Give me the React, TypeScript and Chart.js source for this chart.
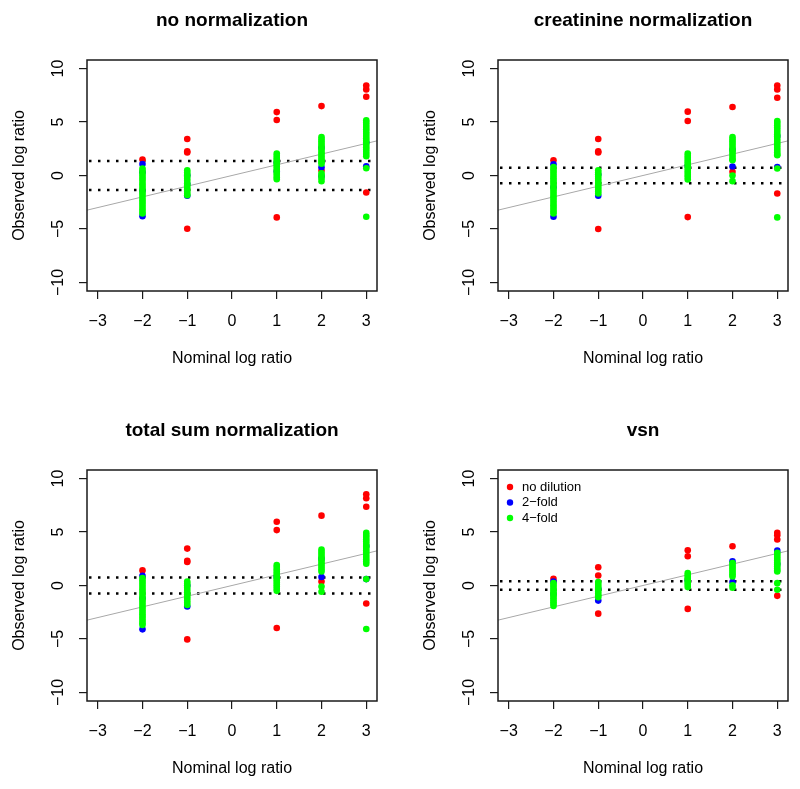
import React, { useEffect, useRef } from "react";
import { Chart, registerables } from "chart.js";

Chart.register(...registerables);
Chart.defaults.font.family = '"Liberation Sans", Arial, Helvetica, sans-serif';
Chart.defaults.color = "#000";

// ---- axes / categories ----
const xTicks = [-3, -2, -1, 0, 1, 2, 3];
const yTicks = [-10, -5, 0, 5, 10];
const nominal = [-2, -1, 1, 2, 3];
const seriesNames = ["no dilution", "2\u2212fold", "4\u2212fold"];
const seriesColors = ["#ff0000", "#0000ff", "#00ff00"];
const panelTitles = ["no normalization", "creatinine normalization", "total sum normalization", "vsn"];
const identityX = [-4, 4];

// ---- observed log ratios, one list per nominal log ratio ----
const noneRed = [
  [1.49],
  [3.42, 2.27, 2.15, -4.98],
  [5.93, 5.19, -3.92],
  [6.49, 0.47],
  [8.42, 8.05, 7.37, -1.59],
];
const noneBlue = [
  [1.08, 0.3, -1.4, -3.8],
  [0.02, -0.8, -1.9],
  [1.2, 0.4],
  [2.6, 0.77, -0.07],
  [3.08, 0.87],
];
const noneGreen = [
  [0.65, 0.45, 0.24, 0.03, -0.18, -0.38, -0.6, -0.82, -1.03, -1.24, -1.46, -1.67, -1.88, -2.1, -2.31, -2.52, -2.74, -2.95, -3.16, -3.38, -3.55],
  [0.49, 0.3, 0.1, -0.1, -0.3, -0.5, -0.72, -0.92, -1.12, -1.32, -1.52, -1.7, -1.85],
  [2.05, 1.85, 1.64, 1.44, 1.25, 1.04, 0.85, 0.64, 0.44, 0.24, 0.04, -0.16, -0.35],
  [3.6, 3.4, 3.2, 3.0, 2.8, 2.6, 2.4, 2.2, 2.0, 1.8, 1.6, 1.4, 1.25, 1.1, 0.2, 0.0, -0.25, -0.53],
  [5.16, 4.95, 4.74, 4.53, 4.32, 4.1, 3.9, 3.69, 3.48, 3.27, 3.06, 2.85, 2.64, 2.43, 2.22, 2.01, 1.8, 0.68, -3.86],
];

const creaRed = [
  [1.43],
  [3.42, 2.27, 2.15, -5.0],
  [5.97, 5.1, -3.89],
  [6.4, 0.34],
  [8.42, 8.05, 7.27, -1.68],
];
const creaBlue = [
  [1.05, -1.1, -3.86],
  [0.1, -1.9],
  [0.9],
  [0.84, 2.4],
  [3.7, 0.8],
];
const creaGreen = [
  [0.8, 0.59, 0.38, 0.17, -0.04, -0.25, -0.46, -0.67, -0.88, -1.1, -1.31, -1.52, -1.73, -1.94, -2.15, -2.36, -2.57, -2.78, -2.99, -3.2, -3.4, -3.55],
  [0.49, 0.3, 0.1, -0.1, -0.3, -0.5, -0.7, -0.9, -1.1, -1.3, -1.5, -1.68],
  [2.05, 1.85, 1.65, 1.45, 1.25, 1.05, 0.85, 0.65, 0.45, 0.25, 0.05, -0.15, -0.38],
  [3.6, 3.4, 3.2, 2.99, 2.78, 2.57, 2.36, 2.15, 1.94, 1.73, 1.52, 1.43, 0.0, -0.53],
  [5.1, 4.9, 4.7, 4.49, 4.28, 4.07, 3.86, 3.65, 3.44, 3.23, 3.02, 2.81, 2.6, 2.39, 2.18, 1.97, 1.9, 0.65, -3.92],
];

const sumRed = [
  [1.41],
  [3.45, 2.3, 2.2, -5.04],
  [5.96, 5.18, -3.98],
  [6.53, 0.38],
  [8.53, 8.16, 7.37, -1.69],
];
const sumBlue = [
  [0.91, -1.2, -4.1],
  [0.0, -1.97],
  [0.8],
  [0.79, 2.5],
  [3.7, 0.6],
];
const sumGreen = [
  [0.7, 0.49, 0.28, 0.07, -0.14, -0.35, -0.57, -0.78, -0.99, -1.2, -1.41, -1.62, -1.83, -2.04, -2.26, -2.47, -2.68, -2.89, -3.1, -3.31, -3.52, -3.7],
  [0.38, 0.18, -0.02, -0.22, -0.42, -0.62, -0.82, -1.02, -1.22, -1.42, -1.62, -1.82],
  [1.92, 1.72, 1.52, 1.32, 1.12, 0.92, 0.71, 0.5, 0.3, 0.1, -0.1, -0.3, -0.5],
  [3.36, 3.16, 2.96, 2.76, 2.56, 2.35, 2.15, 1.94, 1.74, 1.53, 1.32, -0.1, -0.59],
  [4.93, 4.73, 4.53, 4.32, 4.12, 3.91, 3.7, 3.5, 3.29, 3.08, 2.87, 2.66, 2.45, 2.25, 2.04, 0.6, -4.07],
];

const vsnRed = [
  [0.63],
  [1.7, 0.94, -2.63],
  [3.29, 2.73, -2.19],
  [3.67],
  [4.93, 4.7, 4.3, -0.97],
];
const vsnBlue = [
  [0.38, -0.8],
  [-1.41, -0.3],
  [0.5],
  [2.26, 0.32],
  [3.26, 2.0],
];
const vsnGreen = [
  [0.22, 0.05, -0.12, -0.3, -0.48, -0.66, -0.84, -1.02, -1.2, -1.38, -1.56, -1.74, -1.91],
  [0.32, 0.14, -0.04, -0.22, -0.4, -0.58, -0.76, -0.94, -1.09],
  [1.16, 0.98, 0.8, 0.62, 0.44, 0.26, 0.08, -0.15],
  [2.1, 1.92, 1.74, 1.56, 1.38, 1.2, 1.02, 0.85, 0.03, -0.2],
  [3.05, 2.87, 2.69, 2.51, 2.33, 2.15, 1.97, 1.79, 1.61, 1.43, 1.32, 0.22, -0.4],
];

// dotted reference cut-offs (+/-) for each panel
const cutoffs = [1.35, 0.73, 0.75, 0.39];

const panelSeries = [
  [noneRed, noneBlue, noneGreen],
  [creaRed, creaBlue, creaGreen],
  [sumRed, sumBlue, sumGreen],
  [vsnRed, vsnBlue, vsnGreen],
];

const toPoints = (groups: number[][]) =>
  nominal.flatMap((x, i) => groups[i].map((y) => ({ x, y })));

const minusFmt = (v: number | string) => String(v).replace("-", "\u2212");

const boxPlugin = {
  id: "plotBox",
  afterDraw(chart: any) {
    const { ctx, chartArea: a } = chart;
    ctx.save();
    ctx.strokeStyle = "#1a1a1a";
    ctx.lineWidth = 1.5;
    ctx.strokeRect(a.left, a.top, a.right - a.left, a.bottom - a.top);
    ctx.restore();
  },
};

const insideLegend = {
  id: "insideLegend",
  defaults: { display: false },
  afterDraw(chart: any, _args: any, opts: any) {
    if (!opts || !opts.display) return;
    const { ctx, chartArea: a } = chart;
    ctx.save();
    ctx.font = '13px "Liberation Sans", Arial, sans-serif';
    ctx.textBaseline = "middle";
    ctx.textAlign = "left";
    seriesNames.forEach((name, i) => {
      const cy = a.top + 17 + i * 15.5;
      ctx.fillStyle = seriesColors[i];
      ctx.beginPath();
      ctx.arc(a.left + 12, cy, 3.2, 0, Math.PI * 2);
      ctx.fill();
      ctx.fillStyle = "#000";
      ctx.fillText(name, a.left + 24, cy);
    });
    ctx.restore();
  },
};

function makeConfig(idx: number): any {
  const [red, blue, green] = panelSeries[idx];
  const c = cutoffs[idx];
  const pointDs = (label: string, data: any[], color: string) => ({
    label,
    data,
    backgroundColor: color,
    borderColor: color,
    borderWidth: 0,
    pointRadius: 3.3,
    pointHoverRadius: 3.3,
    showLine: false,
  });
  const lineDs = (label: string, data: any[], color: string, width: number, dash: number[]) => ({
    label,
    data,
    borderColor: color,
    backgroundColor: color,
    borderWidth: width,
    borderDash: dash,
    pointRadius: 0,
    showLine: true,
    fill: false,
  });
  return {
    type: "scatter",
    data: {
      datasets: [
        pointDs(seriesNames[2], toPoints(green), seriesColors[2]),
        pointDs(seriesNames[1], toPoints(blue), seriesColors[1]),
        pointDs(seriesNames[0], toPoints(red), seriesColors[0]),
        lineDs("identity", identityX.map((x) => ({ x, y: x })), "#a8a8a8", 1, []),
        lineDs("upper", identityX.map((x) => ({ x, y: c })), "#000", 2.5, [2.5, 6.5]),
        lineDs("lower", identityX.map((x) => ({ x, y: -c })), "#000", 2.5, [2.5, 6.5]),
      ],
    },
    options: {
      animation: false,
      responsive: false,
      maintainAspectRatio: false,
      devicePixelRatio: 1,
      events: [],
      layout: { padding: { left: 0, right: 12, top: 0, bottom: 0 } },
      plugins: {
        legend: { display: false },
        tooltip: { enabled: false },
        title: {
          display: true,
          text: panelTitles[idx],
          fullSize: false,
          color: "#000",
          font: { size: 19, weight: "bold", lineHeight: 1.2 },
          padding: { top: 9.6, bottom: 27.6 },
        },
        insideLegend: { display: idx === 3 },
      },
      scales: {
        x: {
          type: "linear",
          min: -3.24,
          max: 3.24,
          afterBuildTicks: (s: any) => {
            s.ticks = xTicks.map((v) => ({ value: v }));
          },
          afterFit: (s: any) => {
            s.height = 88;
          },
          grid: { drawOnChartArea: false, drawTicks: true, tickLength: 8, color: "#1a1a1a", lineWidth: 1.2 },
          border: { display: false },
          ticks: {
            color: "#000",
            font: { size: 16 },
            padding: 13,
            autoSkip: false,
            maxRotation: 0,
            callback: (v: number) => minusFmt(v),
          },
          title: {
            display: true,
            text: "Nominal log ratio",
            color: "#000",
            font: { size: 16 },
            padding: { top: 0, bottom: 10.4 },
          },
        },
        y: {
          type: "linear",
          min: -10.8,
          max: 10.8,
          afterBuildTicks: (s: any) => {
            s.ticks = yTicks.map((v) => ({ value: v }));
          },
          afterFit: (s: any) => {
            s.width = 87;
          },
          grid: { drawOnChartArea: false, drawTicks: true, tickLength: 8, color: "#1a1a1a", lineWidth: 1.2 },
          border: { display: false },
          ticks: {
            color: "#000",
            font: { size: 16 },
            padding: 7,
            autoSkip: false,
            minRotation: 90,
            maxRotation: 90,
            crossAlign: "center",
            callback: (v: number) => minusFmt(v),
          },
          title: {
            display: true,
            text: "Observed log ratio",
            color: "#000",
            font: { size: 16 },
            padding: { top: 10.4, bottom: 0 },
          },
        },
      },
    },
    plugins: [boxPlugin, insideLegend],
  };
}

function Panel({ idx, left, top }: { idx: number; left: number; top: number }) {
  const ref = useRef<HTMLCanvasElement>(null);
  useEffect(() => {
    if (!ref.current) return;
    const chart = new Chart(ref.current, makeConfig(idx));
    return () => chart.destroy();
  }, [idx]);
  return (
    <canvas
      ref={ref}
      width={389}
      height={379}
      style={{ position: "absolute", left, top, width: 389, height: 379 }}
    />
  );
}

export default function App() {
  return (
    <div
      style={{
        position: "absolute",
        left: 0,
        top: 0,
        width: 800,
        height: 789,
        overflow: "hidden",
        background: "#fff",
      }}
    >
      <Panel idx={0} left={0} top={0} />
      <Panel idx={1} left={411} top={0} />
      <Panel idx={2} left={0} top={410} />
      <Panel idx={3} left={411} top={410} />
    </div>
  );
}
